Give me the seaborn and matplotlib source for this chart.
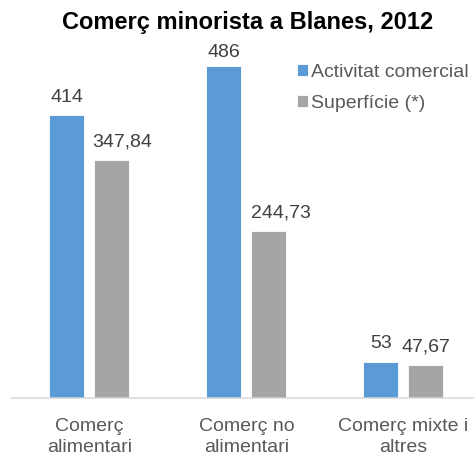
import matplotlib
matplotlib.use("Agg")
import matplotlib.pyplot as plt
import seaborn as sns
import pandas as pd

categories = ["Comerç\nalimentari", "Comerç no\nalimentari", "Comerç mixte i\naltres"]
series_names = ["Activitat comercial", "Superfície (*)"]
activitat = [414, 486, 53]
superficie = [347.84, 244.73, 47.67]
title = "Comerç minorista a Blanes, 2012"

colors = ["#5B9BD5", "#A5A5A5"]
# nudges (points) of the value labels, per series: (dx, dy)
label_nudges = [[(0, 0), (0, -3), (0, 0)], [(7, 0), (8.5, 0), (0, 0)]]

df = pd.DataFrame({
    "cat": categories * 2,
    "serie": [series_names[0]] * 3 + [series_names[1]] * 3,
    "val": activitat + superficie,
})

sns.set_theme(style="white")
plt.rcParams["font.family"] = ["Liberation Sans", "DejaVu Sans"]

fig = plt.figure(figsize=(4.74, 4.55), dpi=100)
ax = fig.add_axes([11 / 474, 57 / 455, 463 / 474, 341.5 / 455])

sns.barplot(data=df, x="cat", y="val", hue="serie", palette=colors,
            width=0.573, gap=0.222, ax=ax, saturation=1,
            edgecolor="white", linewidth=0.6)

ax.set_xlim(-0.5, 2.45)
ax.set_ylim(0, 500)
ax.set_xlabel("")
ax.set_ylabel("")
ax.set_yticks([])
for s in ["top", "left", "right"]:
    ax.spines[s].set_visible(False)
ax.spines["bottom"].set_color("#D9D9D9")
ax.spines["bottom"].set_linewidth(1.1)
ax.tick_params(axis="x", length=0, pad=14.5, labelsize=14, labelcolor="#595959")
for lab in ax.get_xticklabels():
    lab.set_linespacing(1.27)

for cont, nudges in zip(ax.containers, label_nudges):
    labels = [f"{v:g}".replace(".", ",") for v in cont.datavalues]
    texts = ax.bar_label(cont, labels=labels, padding=7, fontsize=14, color="#404040")
    for t, (dx, dy) in zip(texts, nudges):
        x, y = t.xyann
        t.xyann = (x + dx, y + dy)

handles, labs = ax.get_legend_handles_labels()
ax.legend(handles, labs, loc="upper left", bbox_to_anchor=(297 / 474, 1 - 64 / 455),
          bbox_transform=fig.transFigure, frameon=False, fontsize=14,
          handlelength=0.55, handleheight=0.55, handletextpad=0.18,
          labelspacing=0.72, borderpad=0, borderaxespad=0, labelcolor="#595959")

fig.text(248 / 474, 1 - 22 / 455, title, ha="center", va="center",
         fontsize=17, fontweight="bold", color="black")

fig.savefig("out.png", dpi=100)
